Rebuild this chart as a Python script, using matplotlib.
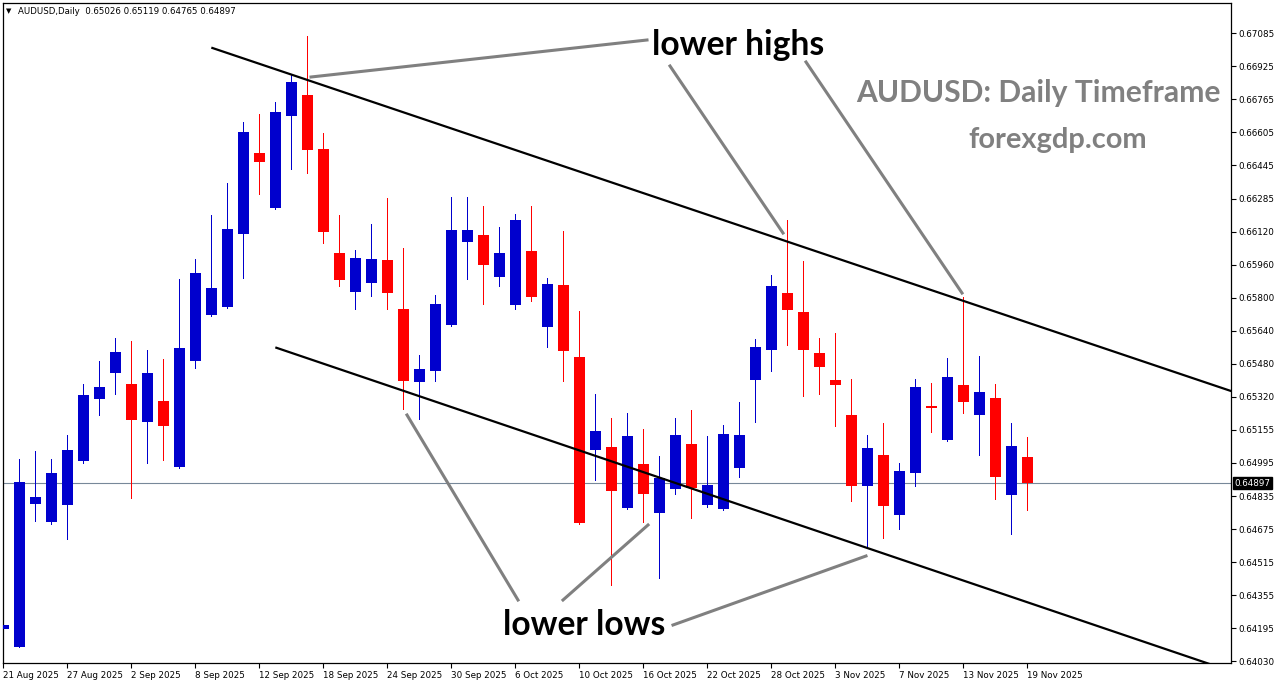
import matplotlib
matplotlib.use("Agg")
import matplotlib.pyplot as plt
import numpy as np
from matplotlib.transforms import blended_transform_factory
from matplotlib.lines import Line2D

W, H = 1276, 684

# ---------------- data ----------------
opens = [0.64187, 0.64101, 0.64797, 0.64709, 0.64792, 0.65006, 0.65307, 0.65434, 0.65379, 0.65196,
         0.65296, 0.64977, 0.65492, 0.65716, 0.65755, 0.66110, 0.66503, 0.66237, 0.66684, 0.66785,
         0.66522, 0.66016, 0.65828, 0.65872, 0.65982, 0.65744, 0.65390, 0.65444, 0.65667, 0.66071,
         0.66104, 0.65901, 0.65765, 0.66026, 0.65658, 0.65861, 0.65510, 0.65059, 0.65072, 0.64777,
         0.64990, 0.64753, 0.64870, 0.65087, 0.64792, 0.64772, 0.64972, 0.65400, 0.65546, 0.65822,
         0.65729, 0.65530, 0.65398, 0.65228, 0.64884, 0.65034, 0.64743, 0.64947, 0.65273, 0.65108,
         0.65374, 0.65230, 0.65311, 0.64840, 0.65026]
highs = [0.64372, 0.65014, 0.65053, 0.65014, 0.65131, 0.65379, 0.65491, 0.65603, 0.65588, 0.65544,
         0.65501, 0.65890, 0.65987, 0.66201, 0.66357, 0.66653, 0.66692, 0.66751, 0.66886, 0.67072,
         0.66600, 0.66201, 0.66031, 0.66157, 0.66284, 0.66041, 0.65520, 0.65812, 0.66289, 0.66289,
         0.66245, 0.66143, 0.66206, 0.66245, 0.65895, 0.66123, 0.65734, 0.65330, 0.65214, 0.65238,
         0.65160, 0.65029, 0.65214, 0.65252, 0.65126, 0.65180, 0.65291, 0.65598, 0.65909, 0.66177,
         0.65977, 0.65603, 0.65627, 0.65403, 0.65131, 0.65189, 0.64995, 0.65403, 0.65384, 0.65505,
         0.65802, 0.65515, 0.65379, 0.65189, 0.65119]
lows = [0.64148, 0.64099, 0.64714, 0.64699, 0.64626, 0.64996, 0.65230, 0.65332, 0.64826, 0.64996,
        0.65011, 0.64972, 0.65458, 0.65710, 0.65750, 0.65896, 0.66305, 0.66232, 0.66426, 0.66407,
        0.66066, 0.65856, 0.65745, 0.65808, 0.65745, 0.65259, 0.65207, 0.65395, 0.65662, 0.65891,
        0.65770, 0.65857, 0.65745, 0.65784, 0.65560, 0.65395, 0.64699, 0.64913, 0.64403, 0.64772,
        0.64708, 0.64437, 0.64845, 0.64729, 0.64782, 0.64767, 0.64928, 0.65196, 0.65444, 0.65570,
        0.65322, 0.65332, 0.65176, 0.64811, 0.64587, 0.64631, 0.64675, 0.64884, 0.65147, 0.65103,
        0.65239, 0.65035, 0.64821, 0.64651, 0.64765]
closes = [0.64207, 0.64901, 0.64829, 0.64946, 0.65058, 0.65325, 0.65364, 0.65535, 0.65205, 0.65432,
          0.65176, 0.65554, 0.65919, 0.65846, 0.66133, 0.66605, 0.66460, 0.66702, 0.66848, 0.66519,
          0.66120, 0.65886, 0.65992, 0.65987, 0.65823, 0.65395, 0.65452, 0.65768, 0.66128, 0.66128,
          0.65959, 0.66016, 0.66177, 0.65804, 0.65865, 0.65541, 0.64704, 0.65150, 0.64860, 0.65126,
          0.64845, 0.64922, 0.65131, 0.64874, 0.64888, 0.65136, 0.65131, 0.65559, 0.65856, 0.65740,
          0.65546, 0.65463, 0.65376, 0.64884, 0.65068, 0.64787, 0.64956, 0.65364, 0.65264, 0.65413,
          0.65293, 0.65340, 0.64928, 0.65077, 0.64897]

date_labels = ["21 Aug 2025", "27 Aug 2025", "2 Sep 2025", "8 Sep 2025", "12 Sep 2025",
               "18 Sep 2025", "24 Sep 2025", "30 Sep 2025", "6 Oct 2025", "10 Oct 2025",
               "16 Oct 2025", "22 Oct 2025", "28 Oct 2025", "3 Nov 2025", "7 Nov 2025",
               "13 Nov 2025", "19 Nov 2025"]
price_labels = ["0.67085", "0.66925", "0.66765", "0.66605", "0.66445", "0.66285", "0.66120",
                "0.65960", "0.65800", "0.65640", "0.65480", "0.65320", "0.65155", "0.64995",
                "0.64835", "0.64675", "0.64515", "0.64355", "0.64195", "0.64030"]

# trendlines (bar index, price)
upper_x = [13.0, 76.8]
upper_p = [0.67015, 0.65343]
lower_x = [17.0, 76.8]
lower_p = [0.65557, 0.63980]

symbol = "AUDUSD,Daily"

# ---------------- figure ----------------
fig = plt.figure(figsize=(W / 100, H / 100), dpi=100)
ax_l, ax_r, ax_t, ax_b = 3, 1231, 3, 663
ax = fig.add_axes([ax_l / W, 1 - ax_b / H, (ax_r - ax_l) / W, (ax_b - ax_t) / H])

n = len(opens)
x = np.arange(n)
o = np.array(opens); h = np.array(highs); l = np.array(lows); c = np.array(closes)
bull = c >= o
blue = "#0000CD"
red = "#FF0000"
cols = np.where(bull, blue, red)

ax.vlines(x, l, h, colors=cols, linewidth=0.72, antialiased=False, zorder=2)
body_lo = np.minimum(o, c)
body_h = np.maximum(np.abs(c - o), 0.00004)
ax.bar(x, body_h, bottom=body_lo, width=0.69, color=cols, linewidth=0,
       antialiased=False, zorder=3)

# axis limits
ax.set_xlim(-0.02, 76.73)
ax.set_ylim(0.64022, 0.67232)

# current price line
ax.axhline(closes[-1], color="#778899", linewidth=0.8, zorder=1)

# trendlines
ax.plot(upper_x, upper_p, color="black", linewidth=1.6, zorder=4, solid_capstyle="butt")
ax.plot(lower_x, lower_p, color="black", linewidth=1.6, zorder=4, solid_capstyle="butt")

# ticks
yt = np.linspace(0.67085, 0.64030, len(price_labels))
ax.yaxis.tick_right()
ax.set_yticks(yt)
ax.set_yticklabels(price_labels)
ax.set_xticks(np.arange(0, n, 4)[:len(date_labels)])
ax.set_xticklabels(date_labels, ha="left")
ax.tick_params(axis="both", direction="out", length=3.5, width=0.8, labelsize=6.3,
               colors="black", pad=1.5)
ax.tick_params(axis="x", pad=2)
for lab in ax.get_xticklabels() + ax.get_yticklabels():
    lab.set_family("DejaVu Sans")
for s in ax.spines.values():
    s.set_linewidth(0.9)
    s.set_color("black")

# current price label on the axis
trans = blended_transform_factory(ax.transAxes, ax.transData)
ax.annotate(f"{closes[-1]:.5f}", xy=(1.0, closes[-1]), xycoords=trans,
            xytext=(2.5, 0), textcoords="offset points", ha="left", va="center",
            fontsize=6.3, color="white", family="DejaVu Sans",
            bbox=dict(boxstyle="square,pad=0.15", fc="black", ec="black"), zorder=10,
            annotation_clip=False)

# header
fig.text(6 / W, 1 - 11 / H, "\u25BC", fontsize=5, ha="left", va="center", family="DejaVu Sans")
fig.text(18 / W, 1 - 11 / H,
         f"{symbol}  {opens[-1]:.5f} {highs[-1]:.5f} {lows[-1]:.5f} {closes[-1]:.5f}",
         fontsize=6.2, ha="left", va="center", family="DejaVu Sans")

# gray annotation pointer lines (pixel positions)
pointers = [((311, 77), (647, 40)), ((670, 66), (783, 233)), ((806, 62), (962, 293)),
            ((407, 415), (518, 600)), ((563, 600), (648, 525)), ((673, 625), (866, 556))]
for (x0, y0), (x1, y1) in pointers:
    fig.add_artist(Line2D([x0 / W, x1 / W], [1 - y0 / H, 1 - y1 / H], color="#808080",
                          linewidth=2.2, transform=fig.transFigure, zorder=5))

# big annotation texts fitted to widths
fig.canvas.draw()
r = fig.canvas.get_renderer()


def fit_text(s, x0, x1, ybase, color):
    t = fig.text(x0 / W, 1 - ybase / H, s, fontsize=20, family=["Lato", "DejaVu Sans"],
                 weight="bold", color=color, ha="left", va="baseline", zorder=6)
    bb = t.get_window_extent(renderer=r)
    t.set_fontsize(20 * (x1 - x0) / bb.width)
    return t


fit_text("lower highs", 652, 824, 55, "black")
fit_text("lower lows", 503, 665, 635, "black")
fit_text("AUDUSD: Daily Timeframe", 856, 1220, 102, "#808080")
fit_text("forexgdp.com", 968, 1147, 148, "#808080")

fig.savefig("out.png", dpi=100)
